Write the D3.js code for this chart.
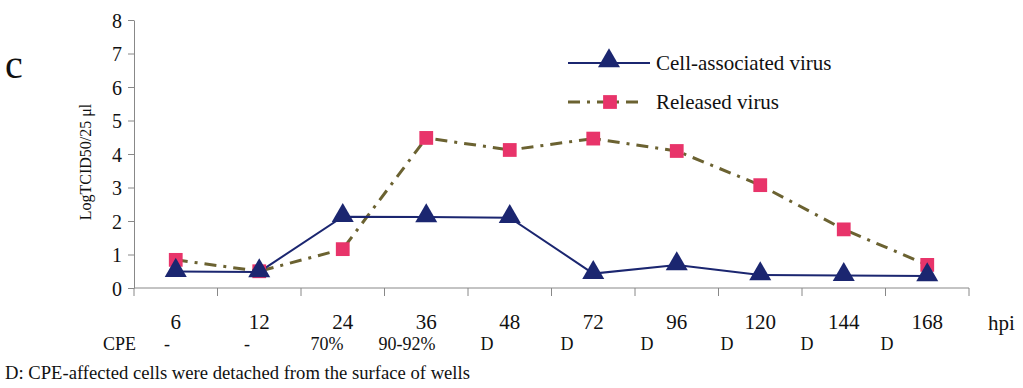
<!DOCTYPE html>
<html>
<head>
<meta charset="utf-8">
<script src="https://cdn.jsdelivr.net/npm/d3@7"></script>
<style>
  body { margin: 0; background: #fff; }
  svg, svg text { font-family: "Liberation Serif", "Times New Roman", serif; }
</style>
</head>
<body>
<svg id="drawing_region"></svg>
<script>
// data
const hours = ['6', '12', '24', '36', '48', '72', '96', '120', '144', '168'];
const cellAssociated = [0.49, 0.48, 2.13, 2.12, 2.1, 0.43, 0.69, 0.39, 0.37, 0.36];
const released = [0.84, 0.5, 1.16, 4.48, 4.12, 4.46, 4.09, 3.07, 1.75, 0.69];
const cpe = ['-', '-', '70%', '90-92%', 'D', 'D', 'D', 'D', 'D', 'D'];
const yTicks = [0, 1, 2, 3, 4, 5, 6, 7, 8];

const config = {
    width: 1023,
    height: 388,
    margin: {top: 20, right: 54, bottom: 100, left: 134}
};

const svg = d3.select('#drawing_region')
    .attr('width', config.width)
    .attr('height', config.height);

const inner_width = 969 - config.margin.left;
const inner_height = 288 - config.margin.top;

const chart = svg.append('g')
    .attr('transform', `translate(${config.margin.left}, ${config.margin.top})`);

const xscale = d3.scaleBand()
    .domain(hours)
    .range([0, inner_width]);

const yscale = d3.scaleLinear()
    .domain([0, 8])
    .range([inner_height, 0]);

// axes
const yaxis = d3.axisLeft(yscale)
    .tickValues(yTicks)
    .tickSize(6)
    .tickSizeOuter(0)
    .tickFormat(d3.format('d'));

const yaxis_group = chart.append('g').call(yaxis)
    .attr('font-family', null);
yaxis_group.select('.domain').attr('stroke', '#888');
yaxis_group.selectAll('.tick line').attr('stroke', '#888');
yaxis_group.selectAll('.tick text')
    .attr('font-size', 20)
    .attr('fill', '#111')
    .attr('x', -12)
    .attr('dy', '0.35em');

// x axis: ticks on band edges
const xaxis_group = chart.append('g')
    .attr('transform', `translate(0, ${inner_height})`);
xaxis_group.append('line')
    .attr('x1', 0).attr('x2', inner_width)
    .attr('stroke', '#888');
const edges = hours.map(h => xscale(h)).concat([inner_width]);
xaxis_group.selectAll('line.tk').data(edges).enter()
    .append('line')
    .attr('class', 'tk')
    .attr('x1', d => d).attr('x2', d => d)
    .attr('y1', 0).attr('y2', 8)
    .attr('stroke', '#888');
xaxis_group.selectAll('text.lbl').data(hours).enter()
    .append('text')
    .attr('class', 'lbl')
    .attr('x', d => xscale(d) + xscale.bandwidth() / 2)
    .attr('y', 41)
    .attr('text-anchor', 'middle')
    .attr('font-size', 21)
    .attr('fill', '#111')
    .text(d => d);

svg.append('text')
    .attr('x', 988).attr('y', 330)
    .attr('font-size', 21)
    .attr('fill', '#111')
    .text('hpi');

// y axis title
svg.append('text')
    .attr('transform', 'translate(91, 162) rotate(-90)')
    .attr('text-anchor', 'middle')
    .attr('font-size', 16)
    .attr('fill', '#111')
    .text('LogTCID50/25 μl');

// panel letter
svg.append('text')
    .attr('x', 5).attr('y', 78)
    .attr('font-size', 40)
    .attr('fill', '#111')
    .text('c');

// lines
const cx = (d, i) => xscale(hours[i]) + xscale.bandwidth() / 2;
const line = d3.line()
    .x((d, i) => cx(d, i))
    .y(d => yscale(d));

const navy = '#1b2670';
const olive = '#6b6231';
const pink = '#e8346a';

chart.append('path')
    .datum(released)
    .attr('d', line)
    .attr('fill', 'none')
    .attr('stroke', olive)
    .attr('stroke-width', 3)
    .attr('stroke-dasharray', '12,7,3,7');

chart.append('path')
    .datum(cellAssociated)
    .attr('d', line)
    .attr('fill', 'none')
    .attr('stroke', navy)
    .attr('stroke-width', 2);

const tri = d3.symbol().type(d3.symbolTriangle).size(210);
const sq = d3.symbol().type(d3.symbolSquare).size(190);

chart.selectAll('path.sq').data(released).enter()
    .append('path')
    .attr('class', 'sq')
    .attr('d', sq)
    .attr('transform', (d, i) => `translate(${cx(d, i)}, ${yscale(d)})`)
    .attr('fill', pink);

chart.selectAll('path.tri').data(cellAssociated).enter()
    .append('path')
    .attr('class', 'tri')
    .attr('d', tri)
    .attr('transform', (d, i) => `translate(${cx(d, i)}, ${yscale(d) - 1})`)
    .attr('fill', navy);

// legend
const legend = svg.append('g');
legend.append('line')
    .attr('x1', 568).attr('x2', 650).attr('y1', 63).attr('y2', 63)
    .attr('stroke', navy).attr('stroke-width', 2);
legend.append('path')
    .attr('d', tri)
    .attr('transform', 'translate(609, 61)')
    .attr('fill', navy);
legend.append('text')
    .attr('x', 656).attr('y', 70)
    .attr('font-size', 21).attr('fill', '#111')
    .text('Cell-associated virus');

legend.append('line')
    .attr('x1', 568).attr('x2', 644).attr('y1', 102).attr('y2', 102)
    .attr('stroke', olive).attr('stroke-width', 3)
    .attr('stroke-dasharray', '12,7,3,7');
legend.append('path')
    .attr('d', sq)
    .attr('transform', 'translate(610, 102)')
    .attr('fill', pink);
legend.append('text')
    .attr('x', 656).attr('y', 109)
    .attr('font-size', 21).attr('fill', '#111')
    .text('Released virus');

// CPE row
const cpeX = d3.scaleLinear().domain([0, 9]).range([167, 887]);
svg.append('text')
    .attr('x', 103).attr('y', 350)
    .attr('font-size', 18).attr('fill', '#111')
    .text('CPE');
svg.selectAll('text.cpe').data(cpe).enter()
    .append('text')
    .attr('class', 'cpe')
    .attr('x', (d, i) => cpeX(i))
    .attr('y', 350)
    .attr('text-anchor', 'middle')
    .attr('font-size', 18)
    .attr('fill', '#111')
    .text(d => d);

svg.append('text')
    .attr('x', 5).attr('y', 379)
    .attr('font-size', 18).attr('fill', '#111')
    .attr('textLength', 465)
    .attr('lengthAdjust', 'spacingAndGlyphs')
    .text('D: CPE-affected cells were detached from the surface of wells');
</script>
</body>
</html>
